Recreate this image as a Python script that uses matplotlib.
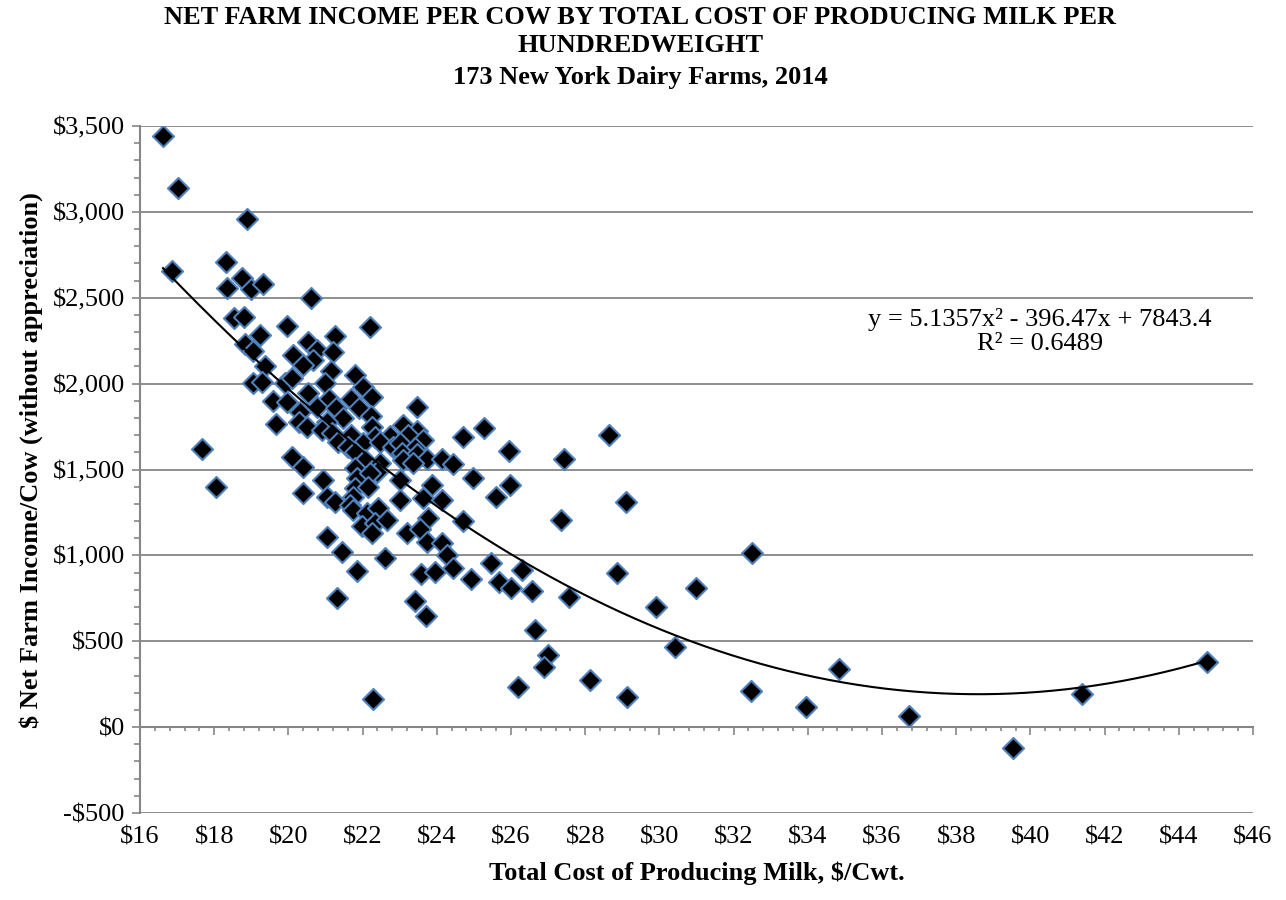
import numpy as np
import matplotlib
matplotlib.use("Agg")
import matplotlib.pyplot as plt
from matplotlib.ticker import MultipleLocator, FuncFormatter

plt.rcParams["font.family"] = ["Liberation Serif", "DejaVu Serif"]

# Total cost of producing milk ($/cwt) and net farm income per cow ($)
cost = [
    16.62, 17.02, 16.86, 18.88, 18.32, 18.35, 18.75, 18.99, 19.32, 20.60,
    18.53, 18.80, 19.96, 19.23, 18.83, 19.05, 19.37, 20.12, 20.53, 20.77,
    19.05, 19.29, 19.58, 19.96, 19.90, 20.10, 20.53, 20.31, 17.67, 18.05,
    19.67, 20.29, 20.50, 20.10, 20.39, 20.39,
    22.20, 21.26, 21.20, 20.66, 20.39, 21.15, 21.80, 20.99, 22.01, 22.25,
    21.10, 21.70, 20.77, 21.28, 21.90, 22.23, 23.47, 21.47,
    22.25, 23.09, 23.47, 24.71, 21.04, 20.90, 21.18, 21.70, 22.33, 22.74,
    23.22, 23.63, 21.34, 21.60, 22.01, 22.47, 22.82, 23.01, 23.41, 23.06,
    23.47, 23.74, 24.14, 24.44, 21.80, 22.06, 22.47, 22.39, 23.09, 23.36,
    24.98, 21.80, 21.85, 22.20, 20.93, 23.01, 23.87, 21.80, 22.15, 21.04,
    21.26, 21.74, 21.66, 23.01, 23.63, 24.14, 21.74, 22.12, 22.42, 21.98,
    22.33, 22.66, 23.76, 24.71, 22.25, 23.20, 23.55, 21.04, 21.44, 23.74,
    24.14,
    21.85, 22.60, 21.31, 24.27, 24.44, 23.57, 23.95, 23.41, 23.71, 24.92,
    22.28,
    25.27, 25.95, 27.43, 28.64, 25.97, 25.60, 29.10, 27.35, 32.50, 25.46,
    26.30, 25.68, 26.00, 26.57, 27.56, 28.86, 30.99, 29.91, 26.65, 30.42,
    27.00, 26.89, 26.19, 28.13, 29.13, 32.47,
    44.76, 41.39, 39.53, 36.73, 34.84, 33.95,
]
income = [
    3440, 3138, 2655, 2958, 2707, 2556, 2614, 2550, 2579, 2498,
    2381, 2387, 2335, 2282, 2230, 2189, 2102, 2166, 2241, 2195,
    2003, 2009, 1898, 1892, 2003, 2032, 1945, 1834, 1619, 1397,
    1764, 1776, 1747, 1572, 1514, 1362,
    2329, 2276, 2183, 2137, 2108, 2073, 2049, 2003, 1979, 1921,
    1910, 1910, 1863, 1857, 1857, 1811, 1863, 1799,
    1747, 1758, 1723, 1688, 1776, 1729, 1712, 1700, 1688, 1694,
    1700, 1671, 1659, 1630, 1653, 1659, 1630, 1653, 1624, 1595,
    1589, 1560, 1560, 1531, 1601, 1554, 1537, 1485, 1554, 1537,
    1450, 1508, 1450, 1479, 1438, 1438, 1409, 1391, 1397, 1339,
    1310, 1339, 1292, 1322, 1333, 1322, 1263, 1246, 1275, 1170,
    1188, 1205, 1217, 1199, 1129, 1129, 1153, 1106, 1020, 1077,
    1071,
    908, 984, 751, 1001, 926, 891, 902, 734, 646, 862,
    163,
    1741, 1607, 1560, 1700, 1409, 1339, 1310, 1205, 1013, 955,
    914, 844, 809, 792, 757, 897, 809, 699, 565, 466,
    419, 349, 233, 274, 175, 210,
    378, 192, -122, 64, 338, 116,
]

# Excel quadratic trendline coefficients
coef = [5.1357, -396.47, 7843.4]
r2 = 0.6489

title_lines = [
    "NET FARM INCOME PER COW BY TOTAL COST OF PRODUCING MILK PER",
    "HUNDREDWEIGHT",
    "173 New York Dairy Farms, 2014",
]

fs = 19
fig = plt.figure(figsize=(12.86, 9), dpi=100)
ax = fig.add_axes([140 / 1286, 1 - 813 / 900, 1113 / 1286, 687 / 900])

grey = "#868686"

ax.scatter(cost, income, marker="D", s=115, facecolor="black",
           edgecolor="#4F81BD", linewidth=1.5, zorder=3)

xs = np.linspace(min(cost), max(cost), 300)
ax.plot(xs, np.polyval(coef, xs), color="black", linewidth=1.5, zorder=4)

ax.set_xlim(16, 46)
ax.set_ylim(-500, 3500)

# y axis: dollar ticks every 500, minor every 100
ax.yaxis.set_major_locator(MultipleLocator(500))
ax.yaxis.set_minor_locator(MultipleLocator(100))
ax.yaxis.set_major_formatter(FuncFormatter(
    lambda v, p: f"-${abs(v):,.0f}" if v < 0 else f"${v:,.0f}"))
ax.tick_params(axis="y", which="major", length=6, width=1.2, color=grey,
               labelsize=fs, pad=5)
ax.tick_params(axis="y", which="minor", length=4, width=1.2, color=grey)
ax.yaxis.grid(True, color=grey, linewidth=1.3)
ax.set_axisbelow(True)

# x axis line sits at $0 with its ticks, labels go along the bottom
ax.spines["bottom"].set_position(("data", 0))
ax.xaxis.set_major_locator(MultipleLocator(2))
ax.xaxis.set_minor_locator(MultipleLocator(0.4))
ax.tick_params(axis="x", which="major", length=6, width=1.2, color=grey,
               labelbottom=False)
ax.tick_params(axis="x", which="minor", length=3, width=1.2, color=grey)

sec = ax.secondary_xaxis(0.0)
sec.set_xticks(np.arange(16, 47, 2))
sec.xaxis.set_major_formatter(FuncFormatter(lambda v, p: f"${v:.0f}"))
sec.tick_params(length=0, labelsize=fs, pad=10)
sec.spines["bottom"].set_visible(False)

for side in ["top", "right"]:
    ax.spines[side].set_visible(False)
for side in ["left", "bottom"]:
    ax.spines[side].set_color(grey)
    ax.spines[side].set_linewidth(1.5)

ax.text(0.8086, 0.7006,
        f"y = {coef[0]}x\u00b2 - {abs(coef[1])}x + {coef[2]}\nR\u00b2 = {r2}",
        transform=ax.transAxes, ha="center", va="center", fontsize=fs,
        linespacing=1.1)

fig.text(0.024, 0.489, "$ Net Farm Income/Cow (without appreciation)",
         rotation=90, ha="center", va="center", fontsize=fs,
         fontweight="bold")
fig.text(0.542, 0.030, "Total Cost of Producing Milk, $/Cwt.",
         ha="center", va="center", fontsize=fs, fontweight="bold")

for text, y in zip(title_lines, [0.980, 0.949, 0.914]):
    fig.text(0.498, y, text, ha="center", va="center", fontsize=fs,
             fontweight="bold")

fig.savefig("out.png", dpi=100)
